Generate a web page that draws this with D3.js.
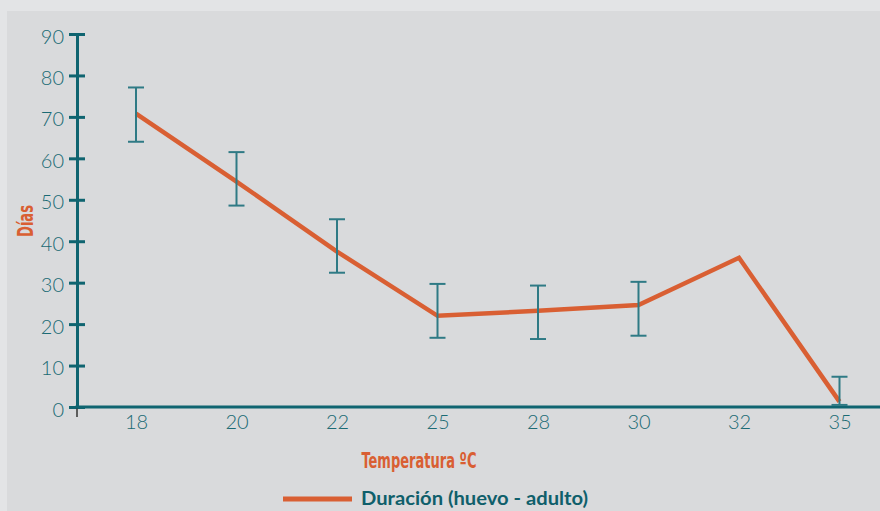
<!DOCTYPE html>
<html>
<head>
<meta charset="utf-8">
<script src="https://cdn.jsdelivr.net/npm/d3@7"></script>
<style>
  body { margin: 0; background: #e3e4e6; }
  svg { display: block; }
</style>
</head>
<body>
<svg id="chart" width="880" height="511"></svg>
<script>
// Development time (days) by rearing temperature
const temperatures = ["18", "20", "22", "25", "28", "30", "32", "35"];
const durationDays = [70.8, 54.4, 37.5, 22.0, 23.2, 24.6, 36.0, 1.3];
const errorLow     = [64.0, 48.6, 32.4, 16.7, 16.4, 17.2, null, 0.5];
const errorHigh    = [77.1, 61.5, 45.3, 29.7, 29.3, 30.2, null, 7.3];
const yTicks = [0, 10, 20, 30, 40, 50, 60, 70, 80, 90];

const W = 880, H = 511;
const axisX = 77;
const teal = "#0f6470";
const barTeal = "#2f7a85";
const orange = "#d95f33";
const tickFont = "Lato, 'Open Sans', sans-serif";

const svg = d3.select("#chart");

// panel background
svg.append("rect").attr("x", 0).attr("y", 0).attr("width", W).attr("height", H).attr("fill", "#e3e4e6");
svg.append("rect").attr("x", 7).attr("y", 11).attr("width", W - 7).attr("height", H - 11).attr("fill", "#d9dadc");

const x = d3.scalePoint().domain(temperatures).range([136, 839.5]);
const y = d3.scaleLinear().domain([0, 90]).range([407, 34]);

// y axis with ticks crossing the axis line
const gy = svg.append("g").attr("transform", `translate(${axisX},0)`)
  .call(d3.axisLeft(y).tickValues(yTicks).tickSizeInner(8).tickSizeOuter(0).tickPadding(5));
gy.select(".domain").attr("stroke", teal).attr("stroke-width", 3);
gy.selectAll(".tick line").attr("x1", 8).attr("stroke", teal).attr("stroke-width", 3);
gy.selectAll(".tick text")
  .attr("fill", "#1a6a74")
  .attr("dy", "0.45em")
  .style("font-family", tickFont)
  .style("font-weight", "300")
  .style("font-size", "20px");

// small marker below the origin
svg.append("line")
  .attr("x1", axisX).attr("x2", axisX)
  .attr("y1", y(0)).attr("y2", y(0) + 10)
  .attr("stroke", "#333").attr("stroke-width", 1.5);

// x axis
const gx = svg.append("g").attr("transform", `translate(0,${y(0)})`)
  .call(d3.axisBottom(x).tickSize(0).tickPadding(8));
gx.select(".domain").remove();
gx.selectAll(".tick text")
  .attr("fill", "#1a6a74")
  .style("font-family", tickFont)
  .style("font-weight", "300")
  .style("font-size", "20px");
svg.append("line")
  .attr("x1", axisX - 1.5).attr("x2", W)
  .attr("y1", y(0)).attr("y2", y(0))
  .attr("stroke", teal).attr("stroke-width", 3);

// duration line
const pts = temperatures.map((t, i) => ({ t, v: durationDays[i] }));
svg.append("path")
  .datum(pts)
  .attr("fill", "none")
  .attr("stroke", orange)
  .attr("stroke-width", 4.5)
  .attr("stroke-linejoin", "miter")
  .attr("d", d3.line().x(d => x(d.t)).y(d => y(d.v)));

// error bars
const bars = temperatures.map((t, i) => ({ t, lo: errorLow[i], hi: errorHigh[i] }))
  .filter(d => d.lo !== null && d.hi !== null);
const capHalf = 8;
const eb = svg.append("g").attr("stroke", barTeal).attr("stroke-width", 2);
eb.selectAll("line.stem").data(bars).join("line").attr("class", "stem")
  .attr("x1", d => x(d.t)).attr("x2", d => x(d.t))
  .attr("y1", d => y(d.hi)).attr("y2", d => y(d.lo));
eb.selectAll("line.top").data(bars).join("line").attr("class", "top")
  .attr("x1", d => x(d.t) - capHalf).attr("x2", d => x(d.t) + capHalf)
  .attr("y1", d => y(d.hi)).attr("y2", d => y(d.hi));
eb.selectAll("line.bot").data(bars).join("line").attr("class", "bot")
  .attr("x1", d => x(d.t) - capHalf).attr("x2", d => x(d.t) + capHalf)
  .attr("y1", d => y(d.lo)).attr("y2", d => y(d.lo));

// axis titles
const condensed = "'Liberation Sans Narrow', 'DejaVu Sans Condensed', 'Arial Narrow', sans-serif";
svg.append("text")
  .attr("transform", "translate(33,221) rotate(-90)")
  .attr("text-anchor", "middle")
  .attr("fill", orange)
  .attr("textLength", 32).attr("lengthAdjust", "spacingAndGlyphs")
  .style("font-family", condensed).style("font-weight", "bold").style("font-size", "22px")
  .text("Días");

svg.append("text")
  .attr("x", 419).attr("y", 468)
  .attr("text-anchor", "middle")
  .attr("fill", orange)
  .attr("textLength", 115).attr("lengthAdjust", "spacingAndGlyphs")
  .style("font-family", condensed).style("font-weight", "bold").style("font-size", "22px")
  .text("Temperatura ºC");

// legend
svg.append("line")
  .attr("x1", 283).attr("x2", 352).attr("y1", 499).attr("y2", 499)
  .attr("stroke", orange).attr("stroke-width", 5);
svg.append("text")
  .attr("x", 361).attr("y", 505)
  .attr("fill", "#0f5f6b")
  .attr("textLength", 227).attr("lengthAdjust", "spacingAndGlyphs")
  .style("font-family", "Lato, 'Open Sans', sans-serif").style("font-weight", "bold").style("font-size", "19px")
  .text("Duración (huevo - adulto)");
</script>
</body>
</html>
